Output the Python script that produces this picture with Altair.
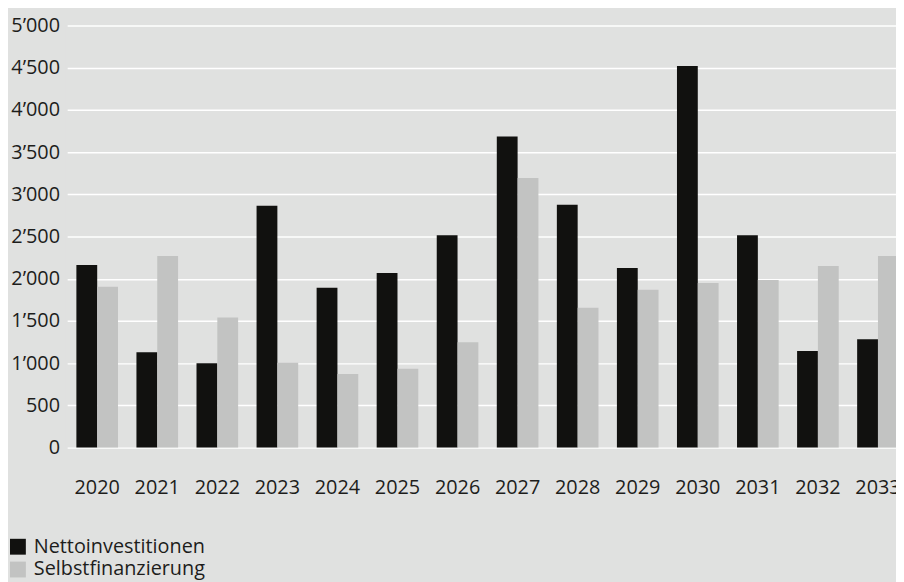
import altair as alt
import pandas as pd

years = [str(y) for y in range(2020, 2034)]
netto = [2162, 1130, 1000, 2865, 1892, 2068, 2514, 3686, 2877, 2127, 4519, 2514, 1143, 1284]
selbst = [1905, 2268, 1540, 1005, 872, 935, 1247, 3194, 1657, 1869, 1951, 1986, 2150, 2268]
series = ["Nettoinvestitionen", "Selbstfinanzierung"]
colors = ["#11110f", "#c2c3c2"]
y_ticks = list(range(0, 5001, 500))

rows = []
for i, yr in enumerate(years):
    rows.append({"Jahr": yr, "Reihe": series[0], "Wert": netto[i]})
    rows.append({"Jahr": yr, "Reihe": series[1], "Wert": selbst[i]})
df = pd.DataFrame(rows)

FONT = "Open Sans"
BG = "#e0e1e0"
TXT = "#1d1d1b"

chart = alt.Chart(df).mark_bar().encode(
    x=alt.X("Jahr:N", sort=years, title=None,
            scale=alt.Scale(range=[1.7, 850.1], paddingInner=0.307, paddingOuter=0.1535),
            axis=alt.Axis(labelAngle=0, domain=False, ticks=False, grid=False,
                          labelPadding=30, labelFontSize=20, labelFont=FONT,
                          labelColor=TXT, labelOverlap=False)),
    xOffset=alt.XOffset("Reihe:N", sort=series, scale=alt.Scale(paddingInner=0, paddingOuter=0)),
    y=alt.Y("Wert:Q", title=None,
            scale=alt.Scale(domain=[0, 5000], nice=False),
            axis=alt.Axis(values=y_ticks, domain=False, ticks=False, grid=True,
                          gridColor="#ffffff", gridWidth=1.5, labelPadding=6,
                          labelFontSize=20, labelFont=FONT, labelColor=TXT,
                          labelExpr="replace(format(datum.value, ','), ',', '\u2019')")),
    color=alt.Color("Reihe:N", sort=series,
                    scale=alt.Scale(domain=series, range=colors),
                    legend=alt.Legend(title=None, orient="none", legendX=-58, legendY=516,
                                      direction="vertical", symbolType="square",
                                      symbolSize=256, symbolStrokeWidth=0,
                                      labelFontSize=20, labelFont=FONT, labelColor=TXT,
                                      labelLimit=400, rowPadding=3, labelOffset=6,
                                      padding=0)),
).properties(
    width=838,
    height=426,
    background=BG,
    padding={"left": 58, "top": 15, "right": 0, "bottom": 133},
    autosize=alt.AutoSizeParams(type="none"),
).configure_view(
    stroke=None, fill=BG
)

chart.save("out.html", embed_options={"renderer": "svg", "actions": False})
